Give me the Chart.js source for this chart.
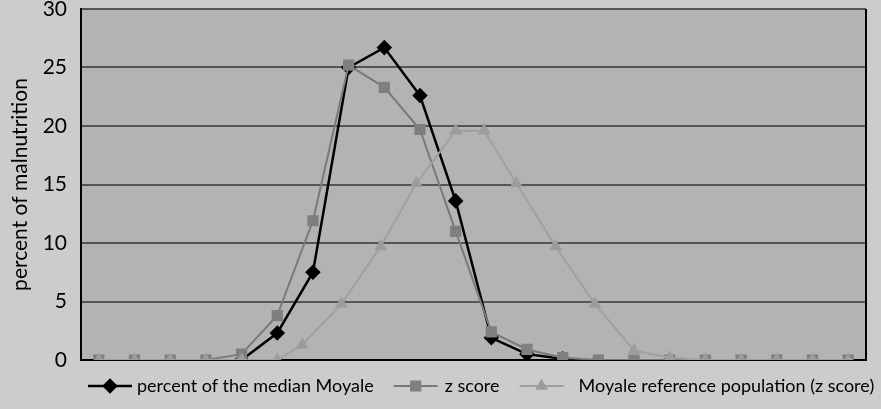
<!DOCTYPE html>
<html>
<head>
<meta charset="utf-8">
<script src="https://cdn.jsdelivr.net/npm/chart.js@4"></script>
<style>
  html, body { margin: 0; padding: 0; background: #cccccc; }
  #wrap { width: 881px; height: 409px; }
</style>
</head>
<body>
<div id="wrap"><canvas id="malChart" width="881" height="409"></canvas></div>
<script>
// class positions (no labels shown on the x axis)
const classIdx = [0, 1, 2, 3, 4, 5, 6, 7, 8, 9, 10, 11, 12, 13, 14, 15, 16, 17, 18, 19, 20, 21];

// percent of the median Moyale
const medianPct = [null, null, null, null, 0, 2.3, 7.5, 25.0, 26.7, 22.6, 13.6, 1.9, 0.5, 0.1,
                   null, null, null, null, null, null, null, null];
// z score
const zScore = [0, 0, 0, 0, 0.5, 3.8, 11.9, 25.2, 23.3, 19.7, 11.0, 2.4, 0.9, 0.2,
                0, 0, 0, 0, 0, 0, 0, 0];
// Moyale reference population (z score) - plotted at its own x positions
const refX = [0, 1, 2, 3, 4, 5, 5.7, 6.8, 7.9, 8.9, 10.0, 10.8, 11.7, 12.8, 13.9, 15.0, 16.0, 17, 18, 19, 20, 21];
const refY = [0, 0, 0, 0, 0, 0, 1.3, 4.8, 9.7, 15.1, 19.6, 19.6, 15.1, 9.7, 4.8, 0.8, 0.2, 0, 0, 0, 0, 0];

const seriesNames = ['percent of the median Moyale', 'z score', 'Moyale reference population (z score)'];
const yTicks = [0, 5, 10, 15, 20, 25, 30];

const FONT = 'Lato, "Open Sans", sans-serif';

function pairs(xs, ys) {
  return xs.map((x, i) => ({ x: x, y: ys[i] }));
}

// plot background, right frame line and the line+marker legend
const plotFrame = {
  id: 'plotFrame',
  beforeDraw(chart) {
    const { ctx, chartArea: a } = chart;
    ctx.save();
    ctx.fillStyle = '#cccccc';
    ctx.fillRect(0, 0, chart.width, chart.height);
    ctx.fillStyle = '#b3b3b3';
    ctx.fillRect(a.left, a.top, a.right - a.left, a.bottom - a.top);
    ctx.restore();
  },
  afterDraw(chart) {
    const { ctx, chartArea: a } = chart;
    ctx.save();
    ctx.strokeStyle = '#000';
    ctx.lineWidth = 2;
    ctx.beginPath();
    ctx.moveTo(a.right, a.top);
    ctx.lineTo(a.right, a.bottom + 1);
    ctx.stroke();

    // legend: short line with the marker in the middle, then the name
    ctx.font = '18px ' + FONT;
    ctx.textBaseline = 'middle';
    const symW = 44, itemGap = 20;
    const txtGaps = [5, 7, 15];
    const ds = chart.data.datasets;
    let x = a.left + 7;
    const y = 386;
    ds.forEach((d, i) => {
      ctx.strokeStyle = d.borderColor;
      ctx.lineWidth = d.borderWidth;
      ctx.beginPath();
      ctx.moveTo(x, y);
      ctx.lineTo(x + symW, y);
      ctx.stroke();
      ctx.fillStyle = d.pointBackgroundColor;
      ctx.strokeStyle = d.pointBorderColor;
      Chart.helpers.drawPoint(ctx, {
        pointStyle: d.pointStyle, radius: d.pointRadius, borderWidth: 1, rotation: 0
      }, x + symW / 2, y);
      ctx.fillStyle = '#000';
      const tx = x + symW + txtGaps[i];
      ctx.fillText(d.label, tx, y);
      x = tx + ctx.measureText(d.label).width + itemGap;
    });
    ctx.restore();
  }
};

const ctx = document.getElementById('malChart').getContext('2d');
new Chart(ctx, {
  type: 'line',
  data: {
    datasets: [
      {
        label: seriesNames[0],
        data: pairs(classIdx, medianPct),
        borderColor: '#000000',
        borderWidth: 2.5,
        pointStyle: 'rectRot',
        pointRadius: 6,
        pointBackgroundColor: '#000000',
        pointBorderColor: '#000000',
        tension: 0,
        spanGaps: false,
        order: 3
      },
      {
        label: seriesNames[1],
        data: pairs(classIdx, zScore),
        borderColor: '#7a7a7a',
        borderWidth: 2,
        pointStyle: 'rect',
        pointRadius: 6.5,
        pointBackgroundColor: '#7f7f7f',
        pointBorderColor: '#7f7f7f',
        tension: 0,
        order: 2
      },
      {
        label: seriesNames[2],
        data: pairs(refX, refY),
        borderColor: '#a0a0a0',
        borderWidth: 2,
        pointStyle: 'triangle',
        pointRadius: 5.5,
        pointBackgroundColor: '#9c9c9c',
        pointBorderColor: '#9c9c9c',
        tension: 0,
        order: 1
      }
    ]
  },
  options: {
    responsive: false,
    animation: false,
    layout: { padding: { top: 9, right: 15, left: 0, bottom: 0 } },
    plugins: {
      legend: { display: false },
      tooltip: { enabled: false }
    },
    scales: {
      x: {
        type: 'linear',
        min: -0.5,
        max: 21.5,
        z: 1,
        ticks: { display: false },
        grid: { display: false, drawTicks: false },
        border: { color: '#000', width: 2 },
        afterFit(s) { s.height = 49; }
      },
      y: {
        min: 0,
        max: 30,
        afterBuildTicks(s) { s.ticks = yTicks.map(v => ({ value: v })); },
        ticks: { color: '#000', font: { family: FONT, size: 21 }, padding: 14 },
        grid: { color: '#555555', lineWidth: 2, drawTicks: false },
        border: { color: '#000', width: 2 },
        title: {
          display: true,
          text: 'percent of malnutrition',
          color: '#000',
          font: { family: FONT, size: 21 },
          padding: { top: 8, bottom: 0 }
        },
        afterFit(s) { s.width = 81; s.paddingTop = 0; s.paddingBottom = 0; }
      }
    }
  },
  plugins: [plotFrame]
});
</script>
</body>
</html>
